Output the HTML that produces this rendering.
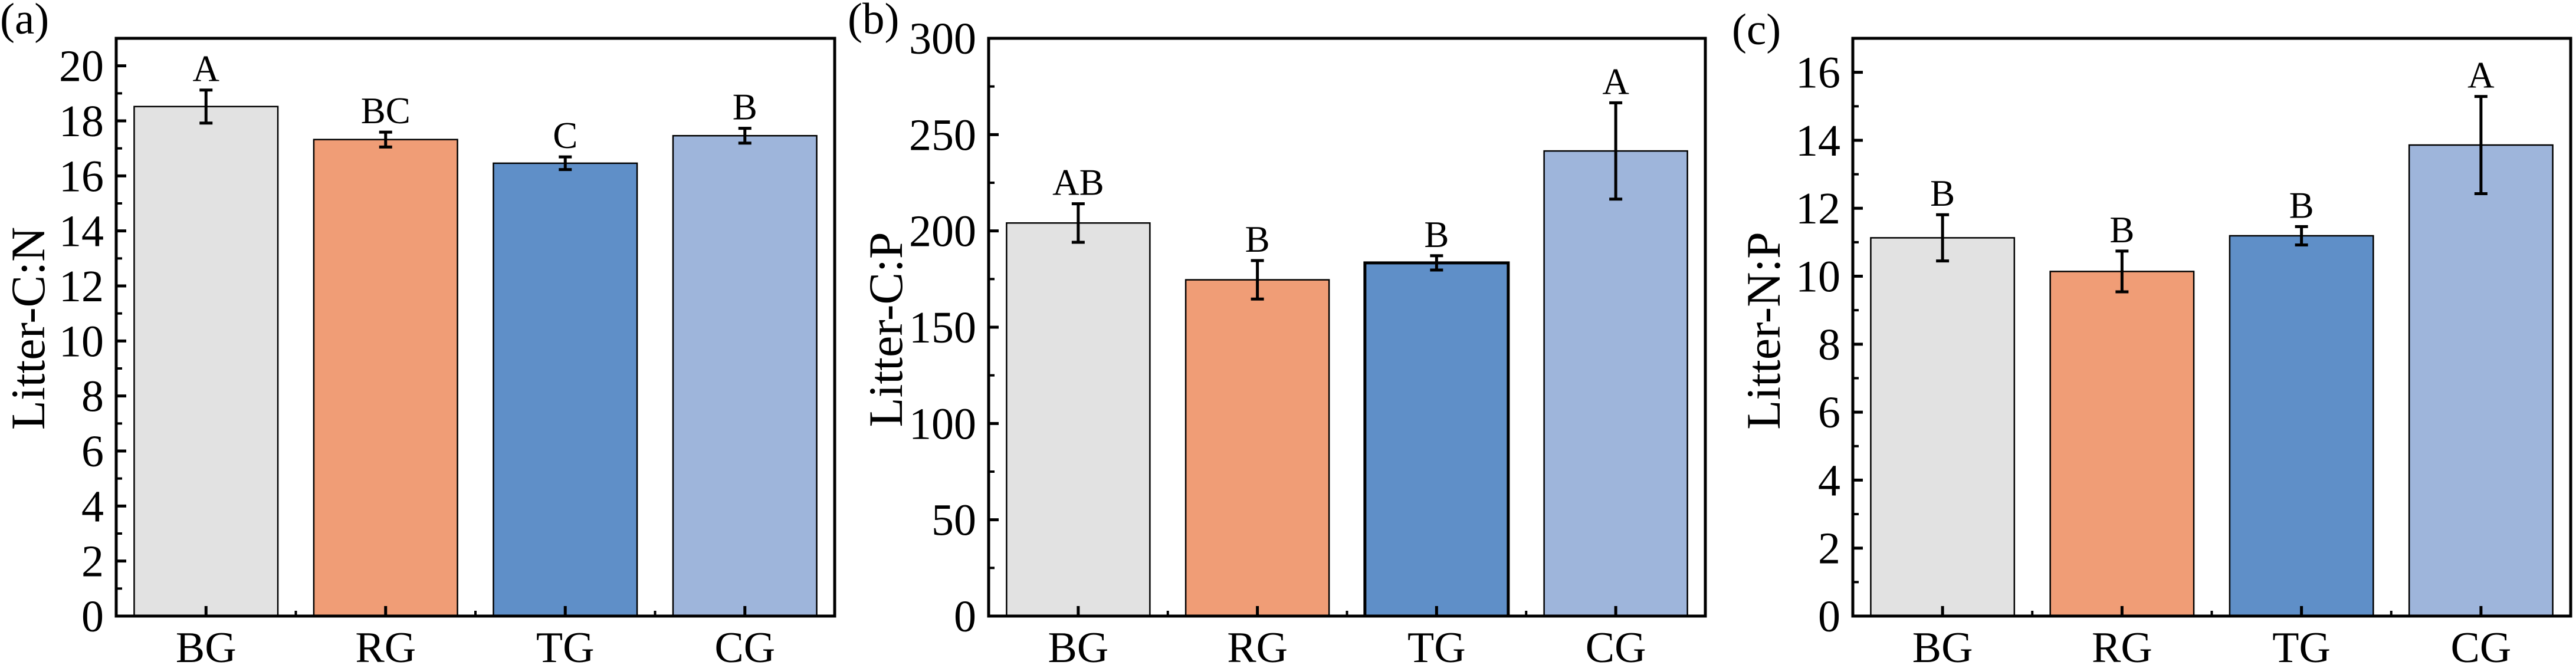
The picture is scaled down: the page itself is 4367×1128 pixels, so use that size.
<!DOCTYPE html>
<html><head><meta charset="utf-8">
<style>
html,body{margin:0;padding:0;background:#fff;}
svg{display:block;}
text{font-family:"Liberation Serif","Times New Roman",serif;fill:#000;}
</style></head>
<body>
<svg id="chart" width="4367" height="1128" viewBox="0 0 4367 1128" xmlns="http://www.w3.org/2000/svg"></svg>
<script>
const categories = ["BG","RG","TG","CG"];
const colors = ["#e2e2e2","#f09d76","#5f8fc8","#9eb5db"];
// panel a: Litter-C:N
const cnValues = [18.52, 17.32, 16.46, 17.46];
const cnErrors = [0.6, 0.27, 0.23, 0.27];
const cnLetters = ["A","BC","C","B"];
const cnTicks = [0,2,4,6,8,10,12,14,16,18,20];
// panel b: Litter-C:P
const cpValues = [204.1, 174.6, 183.4, 241.5];
const cpErrors = [10, 10, 3.7, 25];
const cpLetters = ["AB","B","B","A"];
const cpTicks = [0,50,100,150,200,250,300];
// panel c: Litter-N:P
const npValues = [11.13, 10.14, 11.19, 13.86];
const npErrors = [0.68, 0.6, 0.27, 1.43];
const npLetters = ["B","B","B","A"];
const npTicks = [0,2,4,6,8,10,12,14,16];

const NS = "http://www.w3.org/2000/svg";
const svg = document.getElementById("chart");
function mk(tag, attrs, parent){
  const e = document.createElementNS(NS, tag);
  for (const k in attrs) e.setAttribute(k, attrs[k]);
  (parent||svg).appendChild(e);
  return e;
}

const panels = [
  {id:"a", label:"(a)", lx:0, ly:57, title:"Litter-C:N", tx:47, ty:557, left:197, right:1415, ymax:21, minorStep:1,
   values:cnValues, errors:cnErrors, letters:cnLetters, ticks:cnTicks, thick:-1},
  {id:"b", label:"(b)", lx:1437, ly:57, title:"Litter-C:P", tx:1501, ty:559, left:1676, right:2891, ymax:300, minorStep:25,
   values:cpValues, errors:cpErrors, letters:cpLetters, ticks:cpTicks, thick:2},
  {id:"c", label:"(c)", lx:2936, ly:75, title:"Litter-N:P", tx:2989, ty:561, left:3141, right:4358, ymax:17, minorStep:1,
   values:npValues, errors:npErrors, letters:npLetters, ticks:npTicks, thick:-1}
];
const TOP = 65, BOTTOM = 1045;

panels.forEach(p => {
  const g = mk("g", {});
  
  
  const yS = v => BOTTOM - (v / p.ymax) * (BOTTOM - TOP);
  const xS = v => p.left + (v - 0.5) / 4 * (p.right - p.left);
  const bw = 0.8 / 4 * (p.right - p.left);

  // bars
  p.values.forEach((v, i) => {
    const r = mk("rect", {x: xS(i+1) - bw/2, y: yS(v), width: bw, height: BOTTOM - yS(v),
      fill: colors[i], stroke: "#000", "stroke-width": (i === p.thick ? 5 : 2.5)}, g);
    
    
  });
  // error bars and letters
  p.values.forEach((v, i) => {
    const cx = xS(i+1), hi = yS(v + p.errors[i]), lo = yS(v - p.errors[i]);
    const eg = mk("g", {stroke: "#000", "stroke-width": 5}, g);
    
    
    mk("line", {x1: cx, x2: cx, y1: hi, y2: lo}, eg);
    mk("line", {x1: cx-11, x2: cx+11, y1: hi, y2: hi}, eg);
    mk("line", {x1: cx-11, x2: cx+11, y1: lo, y2: lo}, eg);
    const t = mk("text", {x: cx, y: hi - 15, "text-anchor": "middle", "font-size": 63}, g);
    t.textContent = p.letters[i];
    
    
  });
  // minor y ticks
  for (let v = 0; v <= p.ymax + 1e-9; v += p.minorStep) {
    const isMajor = p.ticks.some(t => Math.abs(t - v) < 1e-9);
    if (!isMajor) mk("line", {x1: p.left, x2: p.left + 10, y1: yS(v), y2: yS(v), stroke: "#000", "stroke-width": 4}, g);
  }
  // major y ticks and labels
  p.ticks.forEach(tv => {
    mk("line", {x1: p.left, x2: p.left + 17, y1: yS(tv), y2: yS(tv), stroke: "#000", "stroke-width": 5}, g);
    const t = mk("text", {x: p.left - 21, y: yS(tv) + 26, "text-anchor": "end", "font-size": 76}, g);
    t.textContent = tv;
    
    
  });
  // x ticks and labels
  categories.forEach((c, i) => {
    const cx = xS(i+1);
    mk("line", {x1: cx, x2: cx, y1: BOTTOM, y2: BOTTOM - 17, stroke: "#000", "stroke-width": 5}, g);
    if (i < 3) mk("line", {x1: xS(i+1.5), x2: xS(i+1.5), y1: BOTTOM, y2: BOTTOM - 9, stroke: "#000", "stroke-width": 4}, g);
    const t = mk("text", {x: cx, y: 1123, "text-anchor": "middle", "font-size": 74}, g);
    t.textContent = c;
    
    
  });
  // frame
  const f = mk("rect", {x: p.left, y: TOP, width: p.right - p.left, height: BOTTOM - TOP, fill: "none", stroke: "#000", "stroke-width": 5}, g);
  
  
  // y title
  const yt = mk("text", {x: 0, y: 0, "text-anchor": "middle", "font-size": 82,
    transform: "translate(" + (p.tx + 28) + "," + p.ty + ") rotate(-90)"}, g);
  yt.textContent = p.title;
  
  
  // panel label
  const pl = mk("text", {x: p.lx, y: p.ly, "font-size": 75}, g);
  pl.textContent = p.label;
  
  
});
</script>
</body></html>
